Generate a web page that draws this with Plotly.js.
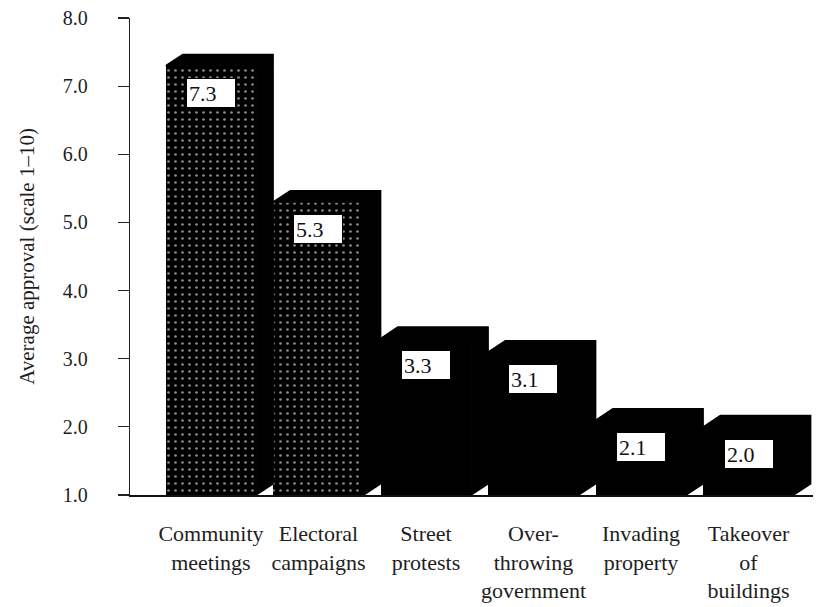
<!DOCTYPE html>
<html>
<head>
<meta charset="utf-8">
<script src="https://cdn.plot.ly/plotly-3.0.1.min.js"></script>
<style>
  html, body { margin: 0; padding: 0; background: #fff; }
  #chart { width: 832px; height: 607px; }
</style>
</head>
<body>
<div id="chart"></div>
<script>
// Forms of political participation and their average approval (1–10 scale)
const categories = [
  "Community<br>meetings",
  "Electoral<br>campaigns",
  "Street<br>protests",
  "Over-<br>throwing<br>government",
  "Invading<br>property",
  "Takeover<br>of<br>buildings"
];
const approval = [7.3, 5.3, 3.3, 3.1, 2.1, 2.0];
const valueLabels = ["7.3", "5.3", "3.3", "3.1", "2.1", "2.0"];
const yTicks = [1, 2, 3, 4, 5, 6, 7, 8];
const yTickText = ["1.0", "2.0", "3.0", "4.0", "5.0", "6.0", "7.0", "8.0"];
// speckled fill for the two conventional forms, solid black for the rest
const fillPattern = [".", ".", "", "", "", ""];

const FONT = "'Liberation Serif', 'DejaVu Serif', serif";
const INK = "#1e1e1e";
const BASE = 1;           // bottom of the scale
const BAR_W = 0.84;       // width of the front face (category units)
const DEPTH_X = 0.158;    // extrusion to the right (category units)
const DEPTH_Y = 0.165;    // extrusion upward (scale units)

const idx = categories.map((_, i) => i);

// Extruded top and side faces of each block, built from the bar values
const px = [], py = [];
approval.forEach((v, i) => {
  const l = i - BAR_W / 2, r = i + BAR_W / 2;
  px.push(l, l + DEPTH_X, r + DEPTH_X, r + DEPTH_X, r, r, l, null);
  py.push(v, v + DEPTH_Y, v + DEPTH_Y, BASE + DEPTH_Y, BASE, v, v, null);
});

const fronts = {
  type: "bar",
  x: idx,
  y: approval.map(v => v - BASE),
  base: BASE,
  width: BAR_W,
  marker: {
    color: "#000",
    line: { width: 0 },
    pattern: {
      shape: fillPattern,
      fgcolor: "#8a8a8a",
      bgcolor: "#000",
      size: 7,
      solidity: 0.12
    }
  },
  hoverinfo: "skip",
  showlegend: false
};

// drawn after the fronts so its outline closes the seam between faces
const depthFaces = {
  type: "scatter",
  mode: "lines",
  x: px, y: py,
  fill: "toself",
  fillcolor: "#000",
  line: { width: 1.5, color: "#000" },
  hoverinfo: "skip",
  showlegend: false
};

const valueBoxes = approval.map((v, i) => ({
  x: i, y: v, xref: "x", yref: "y",
  text: valueLabels[i],
  showarrow: false,
  xanchor: "center", yanchor: "top",
  yshift: -12,
  width: 44, height: 24,
  align: "left",
  borderpad: 2,
  borderwidth: 1,
  bordercolor: "#000",
  bgcolor: "#fff",
  font: { family: FONT, size: 22, color: "#111" }
}));

const layout = {
  width: 832, height: 607,
  margin: { l: 130, r: 19, t: 18, b: 112 },
  paper_bgcolor: "#fff",
  plot_bgcolor: "#fff",
  bargap: 0,
  showlegend: false,
  font: { family: FONT, color: INK },
  xaxis: {
    range: [-0.753, 5.6],
    tickvals: idx,
    ticktext: categories,
    ticks: "",
    showgrid: false,
    zeroline: false,
    showline: true,
    linecolor: "#111",
    linewidth: 1.5,
    tickfont: { family: FONT, size: 22, color: INK },
    ticklabelstandoff: 18,
    fixedrange: true
  },
  yaxis: {
    range: [1, 8],
    tickvals: yTicks,
    ticktext: yTickText,
    ticks: "outside",
    ticklen: 11,
    tickwidth: 1.2,
    tickcolor: "#222",
    showgrid: false,
    zeroline: false,
    showline: true,
    linecolor: "#222",
    linewidth: 1.3,
    tickfont: { family: FONT, size: 20, color: INK },
    ticklabelstandoff: 26,
    title: {
      text: "Average approval (scale 1\u201310)",
      font: { family: FONT, size: 21, color: INK },
      standoff: 22
    },
    fixedrange: true
  },
  annotations: valueBoxes
};

Plotly.newPlot("chart", [fronts, depthFaces], layout, { displayModeBar: false, staticPlot: true });
</script>
</body>
</html>
